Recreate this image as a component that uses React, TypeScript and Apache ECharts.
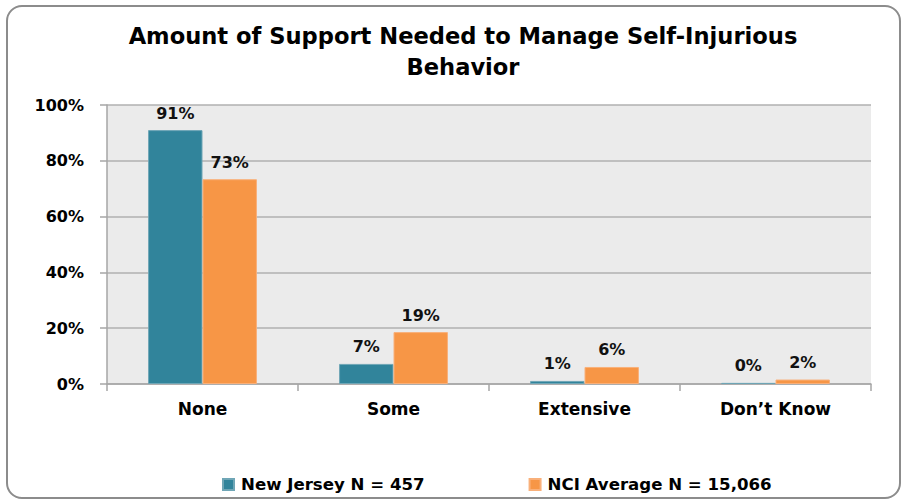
import React, { useEffect, useRef } from "react";
import * as echarts from "echarts";

const categories = ["None", "Some", "Extensive", "Don\u2019t Know"];
const seriesNames = ["New Jersey N = 457", "NCI Average N = 15,066"];
const newJersey = [91, 7.2, 1.1, 0.4];
const nciAverage = [73.4, 18.6, 6.1, 1.6];
const colors = ["#31849b", "#f79646"];
const titleText = "Amount of Support Needed to Manage Self-Injurious\nBehavior";

const FONT = "DejaVu Sans";

export default function App() {
  const ref = useRef<HTMLDivElement>(null);
  useEffect(() => {
    if (!ref.current) return;
    const chart = echarts.init(ref.current, undefined, { renderer: "svg" });
    const labelCfg = {
      show: true,
      position: "top" as const,
      distance: 9,
      fontFamily: FONT,
      fontWeight: "bold" as const,
      fontSize: 16,
      color: "#111",
      formatter: (p: any) => Math.round(p.value) + "%",
    };
    chart.setOption({
      animation: false,
      backgroundColor: "#ffffff",
      title: {
        text: titleText,
        left: 458,
        top: 15,
        textAlign: "center",
        textStyle: {
          fontFamily: FONT,
          fontWeight: "bold",
          fontSize: 22.6,
          lineHeight: 31,
          color: "#000",
        },
      },
      graphic: [
        {
          type: "rect",
          shape: { x: 7, y: 6, width: 893, height: 492, r: 15 },
          style: { fill: "none", stroke: "#8c8c8c", lineWidth: 2 },
          silent: true,
          z: -10,
        },
      ],
      legend: {
        left: 217,
        top: 471,
        itemWidth: 11,
        itemHeight: 11,
        itemGap: 104,
        icon: "rect",
        data: seriesNames,
        textStyle: {
          fontFamily: FONT,
          fontWeight: "bold",
          fontSize: 16.6,
          color: "#000",
          padding: [0, 0, 0, 2],
        },
      },
      grid: {
        left: 107,
        right: 32,
        top: 105,
        bottom: 117,
        show: true,
        backgroundColor: "#ebebeb",
        borderWidth: 0,
      },
      xAxis: {
        type: "category",
        data: categories,
        axisLine: { show: true, lineStyle: { color: "#a6a6a6", width: 1.5 } },
        axisTick: { show: true, alignWithLabel: false, length: 7, lineStyle: { color: "#a6a6a6", width: 1.5 } },
        axisLabel: {
          margin: 16,
          fontFamily: FONT,
          fontWeight: "bold",
          fontSize: 17,
          color: "#000",
        },
      },
      yAxis: {
        type: "value",
        min: 0,
        max: 100,
        interval: 20,
        axisLine: { show: true, lineStyle: { color: "#a6a6a6", width: 1.5 } },
        axisTick: { show: true, length: 7, lineStyle: { color: "#a6a6a6", width: 1.5 } },
        splitLine: { show: true, lineStyle: { color: "#b0b0b0", width: 1.5 } },
        axisLabel: {
          margin: 23,
          formatter: "{value}%",
          fontFamily: FONT,
          fontWeight: "bold",
          fontSize: 16,
          color: "#000",
        },
      },
      series: [
        {
          name: seriesNames[0],
          type: "bar",
          data: newJersey,
          barGap: "0%",
          barCategoryGap: "43%",
          itemStyle: { color: colors[0], borderColor: "#6fa6b6", borderWidth: 1 },
          label: labelCfg,
        },
        {
          name: seriesNames[1],
          type: "bar",
          data: nciAverage,
          barGap: "0%",
          barCategoryGap: "43%",
          itemStyle: { color: colors[1], borderColor: "#f9b07a", borderWidth: 1 },
          label: labelCfg,
        },
      ],
    });
    return () => chart.dispose();
  }, []);
  return (
    <div
      ref={ref}
      style={{ position: "fixed", left: 0, top: 0, width: 903, height: 501 }}
    />
  );
}
